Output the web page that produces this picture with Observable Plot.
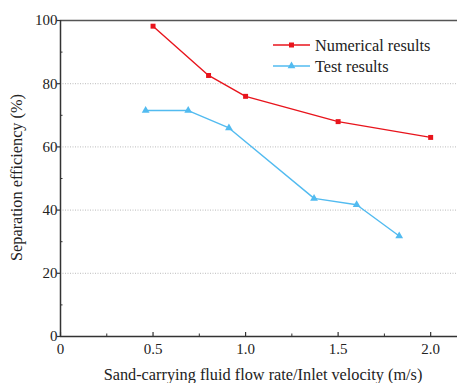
<!DOCTYPE html>
<html>
<head>
<meta charset="utf-8">
<script src="https://cdn.jsdelivr.net/npm/d3@7"></script>
<script src="https://cdn.jsdelivr.net/npm/@observablehq/plot@0.6"></script>
<style>
  html, body { margin: 0; padding: 0; background: #fff; overflow: hidden; }
  #chart svg { display: block; }
</style>
</head>
<body>
<div id="chart"></div>
<script>
const numX = [0.5, 0.8, 1.0, 1.5, 2.0];
const numY = [98.2, 82.6, 76.0, 68.0, 63.0];
const testX = [0.46, 0.69, 0.91, 1.37, 1.60, 1.83];
const testY = [71.5, 71.5, 66.0, 43.7, 41.7, 31.8];
const xTicks = [0, 0.5, 1.0, 1.5, 2.0];
const xMinor = [0.25, 0.75, 1.25, 1.75];
const yTicks = [0, 20, 40, 60, 80, 100];
const yMinor = [10, 30, 50, 70, 90];
const gridVals = [20, 40, 60, 80];
const seriesNames = ["Numerical results", "Test results"];
const colors = ["#e8141c", "#52bbf0"];

const numData = numX.map((x, i) => ({x, y: numY[i]}));
const testData = testX.map((x, i) => ({x, y: testY[i]}));

const font = "'Liberation Serif', 'Times New Roman', serif";
const axisColor = "#333";

const chart = Plot.plot({
  width: 457,
  height: 383,
  marginLeft: 60,
  marginRight: 0,
  marginTop: 20,
  marginBottom: 47,
  style: {fontFamily: font, fontSize: "15px", color: "#222", background: "#fff"},
  x: {domain: [0, 2.145]},
  y: {domain: [0, 100]},
  marks: [
    Plot.gridY(gridVals, {stroke: "#aaa", strokeOpacity: 1, strokeWidth: 0.8, strokeDasharray: "1,1.5"}),
    Plot.ruleY([100], {stroke: "#555", strokeWidth: 1.3}),
    Plot.axisX(xTicks, {tickSize: 0, tickPadding: 7, tickFormat: d => d === 0 ? "0" : d.toFixed(1), fontSize: 15, fontFamily: font, label: null}),
    Plot.axisX(xTicks, {tickSize: -4, tickFormat: () => "", stroke: axisColor, strokeWidth: 1.2, label: null}),
    Plot.axisX(xMinor, {tickSize: -2.5, tickFormat: () => "", stroke: axisColor, label: null}),
    Plot.axisY(yTicks, {tickSize: 0, tickPadding: 3, fontSize: 15, fontFamily: font, label: null}),
    Plot.axisY(yTicks, {tickSize: 3, tickFormat: () => "", stroke: axisColor, strokeWidth: 1.2, label: null}),
    Plot.axisY(yMinor, {tickSize: -2.5, tickFormat: () => "", stroke: axisColor, label: null}),
    Plot.ruleX([0], {stroke: axisColor, strokeWidth: 1.5}),
    Plot.ruleY([0], {stroke: axisColor, strokeWidth: 1.5}),
    Plot.line(numData, {x: "x", y: "y", stroke: colors[0], strokeWidth: 1.4}),
    Plot.dot(numData, {x: "x", y: "y", symbol: "square", r: 2.8, fill: colors[0], stroke: "none"}),
    Plot.line(testData, {x: "x", y: "y", stroke: colors[1], strokeWidth: 1.4}),
    Plot.dot(testData, {x: "x", y: "y", symbol: "triangle", r: 2.9, fill: colors[1], stroke: "none"})
  ]
});

const svg = d3.select(chart);
// axis titles
svg.append("text")
  .attr("x", 263).attr("y", 380)
  .attr("text-anchor", "middle")
  .attr("font-family", font).attr("font-size", 16.3).attr("fill", "#222")
  .text("Sand-carrying fluid flow rate/Inlet velocity (m/s)");
svg.append("text")
  .attr("transform", "translate(22,177.5) rotate(-90)")
  .attr("text-anchor", "middle")
  .attr("font-family", font).attr("font-size", 16.3).attr("fill", "#222")
  .text("Separation efficiency (%)");

// legend
const legendRows = [
  {y: 45, symbol: d3.symbolSquare, size: 25},
  {y: 66, symbol: d3.symbolTriangle, size: 26}
];
legendRows.forEach((row, i) => {
  const g = svg.append("g");
  g.append("line").attr("x1", 273).attr("x2", 310).attr("y1", row.y).attr("y2", row.y)
    .attr("stroke", colors[i]).attr("stroke-width", 1.3);
  g.append("path").attr("d", d3.symbol(row.symbol, row.size)())
    .attr("transform", `translate(291.5,${row.y})`).attr("fill", colors[i]);
  g.append("text").attr("x", 315).attr("y", row.y + 5.5)
    .attr("text-anchor", "start")
    .attr("font-family", font).attr("font-size", 16.3).attr("fill", "#222")
    .text(seriesNames[i]);
});

document.getElementById("chart").appendChild(chart);
</script>
</body>
</html>
